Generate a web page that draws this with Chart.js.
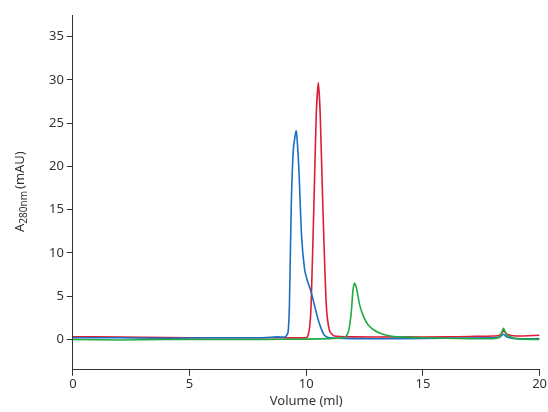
<!DOCTYPE html>
<html>
<head>
<script src="https://cdn.jsdelivr.net/npm/chart.js@4"></script>
<style>
body { margin: 0; background: #fff; }
#wrap { width: 548px; height: 412px; }
</style>
</head>
<body>
<div id="wrap"><canvas id="c"></canvas></div>
<script>
// Chromatogram traces: [volume ml, absorbance mAU]
const blueTrace = [[0,0.2],[2,0.2],[4,0.15],[6,0.2],[8,0.2],[8.8,0.3],[9.1,0.3],[9.22,0.8],[9.28,4],[9.36,15.6],[9.45,22],[9.57,24.1],[9.68,20],[9.8,12],[9.93,8.1],[10.05,6.8],[10.21,5.5],[10.35,4],[10.5,2.4],[10.65,1.2],[10.78,0.5],[11,0.2],[12,0.1],[14,0.1],[16,0.15],[18,0.2],[18.3,0.3],[18.45,0.6],[18.6,0.3],[19,0.1],[20,0.1]];
const redTrace = [[0,0.3],[1,0.3],[3,0.25],[5,0.2],[7,0.2],[9,0.2],[10,0.2],[10.07,0.4],[10.15,1.5],[10.21,4],[10.33,15.6],[10.43,26],[10.52,29.7],[10.6,26],[10.71,15.6],[10.86,4],[11,1],[11.2,0.4],[12,0.3],[14,0.3],[16,0.3],[17,0.35],[18,0.4],[18.3,0.5],[18.45,1.0],[18.6,0.6],[19,0.4],[20,0.5]];
const greenTrace = [[0,0],[2,-0.05],[4,0],[6,0],[8,0],[10,0.05],[11,0.1],[11.6,0.2],[11.72,0.4],[11.82,1],[11.93,3.1],[12.0,5.6],[12.07,6.5],[12.15,6],[12.29,4],[12.45,2.7],[12.65,1.7],[12.9,1.1],[13.2,0.7],[13.6,0.4],[14,0.3],[15,0.2],[16,0.15],[17,0.1],[18,0.1],[18.3,0.3],[18.45,1.3],[18.6,0.5],[19,0.1],[20,0]];
const xTicks = [0,5,10,15,20];
const yTicks = [0,5,10,15,20,25,30,35];

const tickFont = { family: 'Noto Sans', size: 13 };
const yTitle = {
  id: 'yTitle',
  afterDraw(chart) {
    const ctx = chart.ctx;
    ctx.save();
    ctx.translate(20, 232);
    ctx.rotate(-Math.PI / 2);
    ctx.fillStyle = '#333';
    ctx.textBaseline = 'middle';
    ctx.font = '13px "Noto Sans"';
    let x = 0;
    ctx.fillText('A', x, 0); x += ctx.measureText('A').width;
    ctx.font = '10px "Noto Sans"';
    ctx.fillText('280nm', x, 4); x += ctx.measureText('280nm').width + 2;
    ctx.font = '13px "Noto Sans"';
    ctx.fillText('(mAU)', x, 0);
    ctx.restore();
  }
};

function ds(data, color) {
  return { data: data.map(p => ({ x: p[0], y: p[1] })), borderColor: color, borderWidth: 1.6, pointRadius: 0, tension: 0.2, fill: false };
}

new Chart(document.getElementById('c'), {
  type: 'line',
  data: { datasets: [ds(greenTrace, '#22aa44'), ds(blueTrace, '#1a6fc0'), ds(redTrace, '#dd1e35')] },
  options: {
    responsive: true,
    maintainAspectRatio: false,
    animation: false,
    layout: { padding: { left: 46, right: 8, top: 15, bottom: 3 } },
    plugins: { legend: { display: false }, tooltip: { enabled: false } },
    scales: {
      x: {
        type: 'linear', min: 0, max: 20,
        afterBuildTicks: s => { s.ticks = xTicks.map(v => ({ value: v })); },
        grid: { drawOnChartArea: false, tickLength: 6, color: '#333' },
        border: { color: '#333' },
        ticks: { font: tickFont, color: '#333', maxRotation: 0, padding: 1 },
        title: { display: true, text: 'Volume (ml)', font: tickFont, color: '#333', padding: { top: 0, bottom: 0 } }
      },
      y: {
        min: -3.5, max: 37.5,
        afterBuildTicks: s => { s.ticks = yTicks.map(v => ({ value: v })); },
        grid: { drawOnChartArea: false, tickLength: 6, color: '#333' },
        border: { color: '#333' },
        ticks: { font: tickFont, color: '#333' }
      }
    }
  },
  plugins: [yTitle]
});
</script>
</body>
</html>
